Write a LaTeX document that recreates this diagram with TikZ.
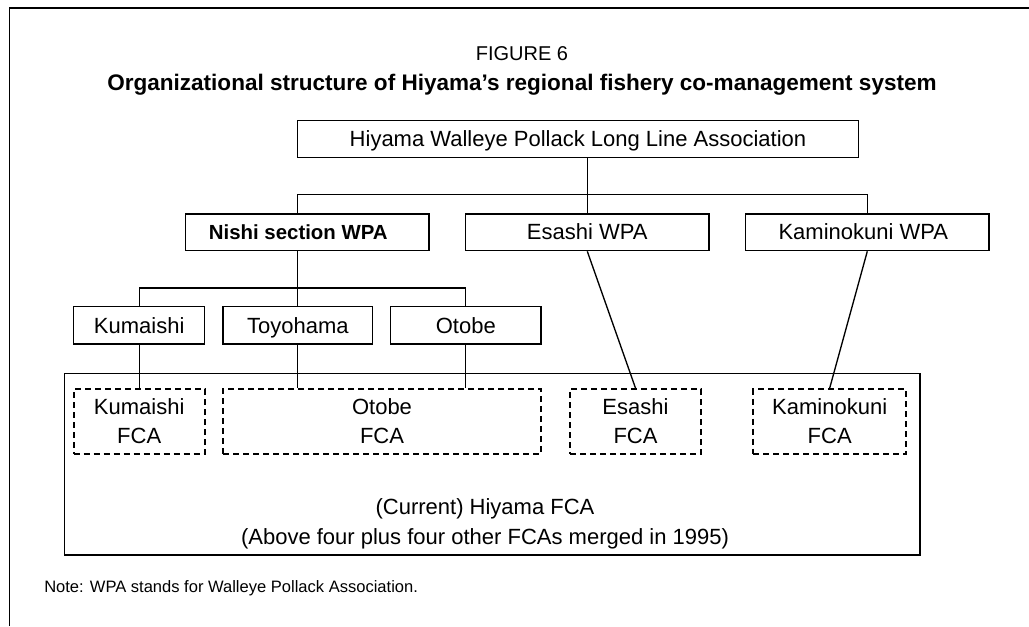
\documentclass[tikz,border=0pt]{standalone}
\usepackage{fontspec}
\setmainfont{Liberation Sans}
\usetikzlibrary{calc}
\begin{document}
\begin{tikzpicture}[x=0.75pt,y=-0.75pt,
  box/.style={draw,line width=1pt,inner sep=0pt,text height=12pt,text depth=1.5pt,
     font=\fontsize{16.5pt}{21.75pt}\selectfont},
  fca/.style={draw,line width=1.4pt,dash pattern=on 4.5pt off 3pt,inner sep=0pt,align=center,
     font=\fontsize{16.5pt}{21.75pt}\selectfont},
  conn/.style={line width=1pt},
  txt/.style={inner sep=0pt}]
\useasboundingbox (0,0) rectangle (1029,626);
% frame
\draw[line width=0.9pt] (9.3,626) -- (9.3,8) -- (1029,8);
% titles
\node[txt,anchor=base,font=\fontsize{15pt}{18pt}\selectfont] (fig) at (522,60) {FIGURE 6};
\node[txt,anchor=base,font=\fontsize{16.9pt}{20pt}\selectfont\bfseries] (title) at (522,90)
  {Organizational structure of Hiyama’s regional fishery co-management system};
% level 1
\node[box,minimum width=560.6*0.75pt,minimum height=37*0.75pt] (top) at (578,139.2)
  {Hiyama Walleye Pollack Long Line Association};
% level 2
\node[box,minimum width=243.3*0.75pt,minimum height=36.7*0.75pt,font=\fontsize{15.3pt}{18pt}\selectfont\bfseries] (nishi) at (307.3,232.3)
  {Nishi section WPA\kern13.5pt};
\node[box,minimum width=243.3*0.75pt,minimum height=36.7*0.75pt] (esashiwpa) at (587.3,232.3) {Esashi WPA};
\node[box,minimum width=243.3*0.75pt,minimum height=36.7*0.75pt] (kamino) at (867.3,232.3) {Kaminokuni WPA\kern6pt};
% level 3
\node[box,minimum width=131*0.75pt,minimum height=37.3*0.75pt,text depth=0pt] (kuma) at (139.2,325.3) {Kumaishi};
\node[box,minimum width=149.7*0.75pt,minimum height=37.3*0.75pt,text depth=0pt] (toyo) at (297.8,325.3) {Toyohama};
\node[box,minimum width=150.3*0.75pt,minimum height=37.3*0.75pt,text depth=0pt] (otobe) at (465.8,325.3) {Otobe};
% big box
\node[draw,line width=1.2pt,inner sep=0pt,minimum width=855.7*0.75pt,minimum height=181.7*0.75pt] (hiyama) at (492.2,464.2) {};
\node[txt,align=center,font=\fontsize{16.5pt}{22.5pt}\selectfont] (hiyamatext) at (485,524)
  {(Current) Hiyama FCA\\(Above four plus four other FCAs merged in 1995)};
% FCA boxes
\node[fca,minimum width=131*0.75pt,minimum height=65*0.75pt] (kumafca) at (139.2,421.5) {Kumaishi\\FCA};
\node[fca,minimum width=318*0.75pt,minimum height=65*0.75pt] (otobefca) at (382,421.5) {Otobe\\FCA};
\node[fca,minimum width=131*0.75pt,minimum height=65*0.75pt] (esashifca) at (635.5,421.5) {Esashi\\FCA};
\node[fca,minimum width=152.7*0.75pt,minimum height=65*0.75pt] (kaminofca) at (829.7,421.5) {Kaminokuni\\FCA};
% note
\node[txt,anchor=base west,font=\fontsize{12.4pt}{15pt}\selectfont] (note) at (44,592.7)
  {Note: WPA stands for Walleye Pollack Association.};
% connectors
\draw[conn] (top.south -| esashiwpa.north) -- (esashiwpa.north);
\draw[conn] (toyo.north |- nishi.north) -- ++(0,-19) -| (kamino.north);
\draw[conn] (toyo.north |- nishi.south) -- (toyo.north);
\draw[conn] (kuma.north) -- ++(0,-18) -| (otobe.north);
\draw[conn] (kuma.south) -- (kuma.south |- kumafca.north);
\draw[conn] (toyo.south) -- (toyo.south |- otobefca.north);
\draw[conn] (otobe.south) -- (otobe.south |- otobefca.north);
\draw[conn] (esashiwpa.south) -- (esashifca.north);
\draw[conn] (kamino.south) -- (kaminofca.north);
\end{tikzpicture}
\end{document}
